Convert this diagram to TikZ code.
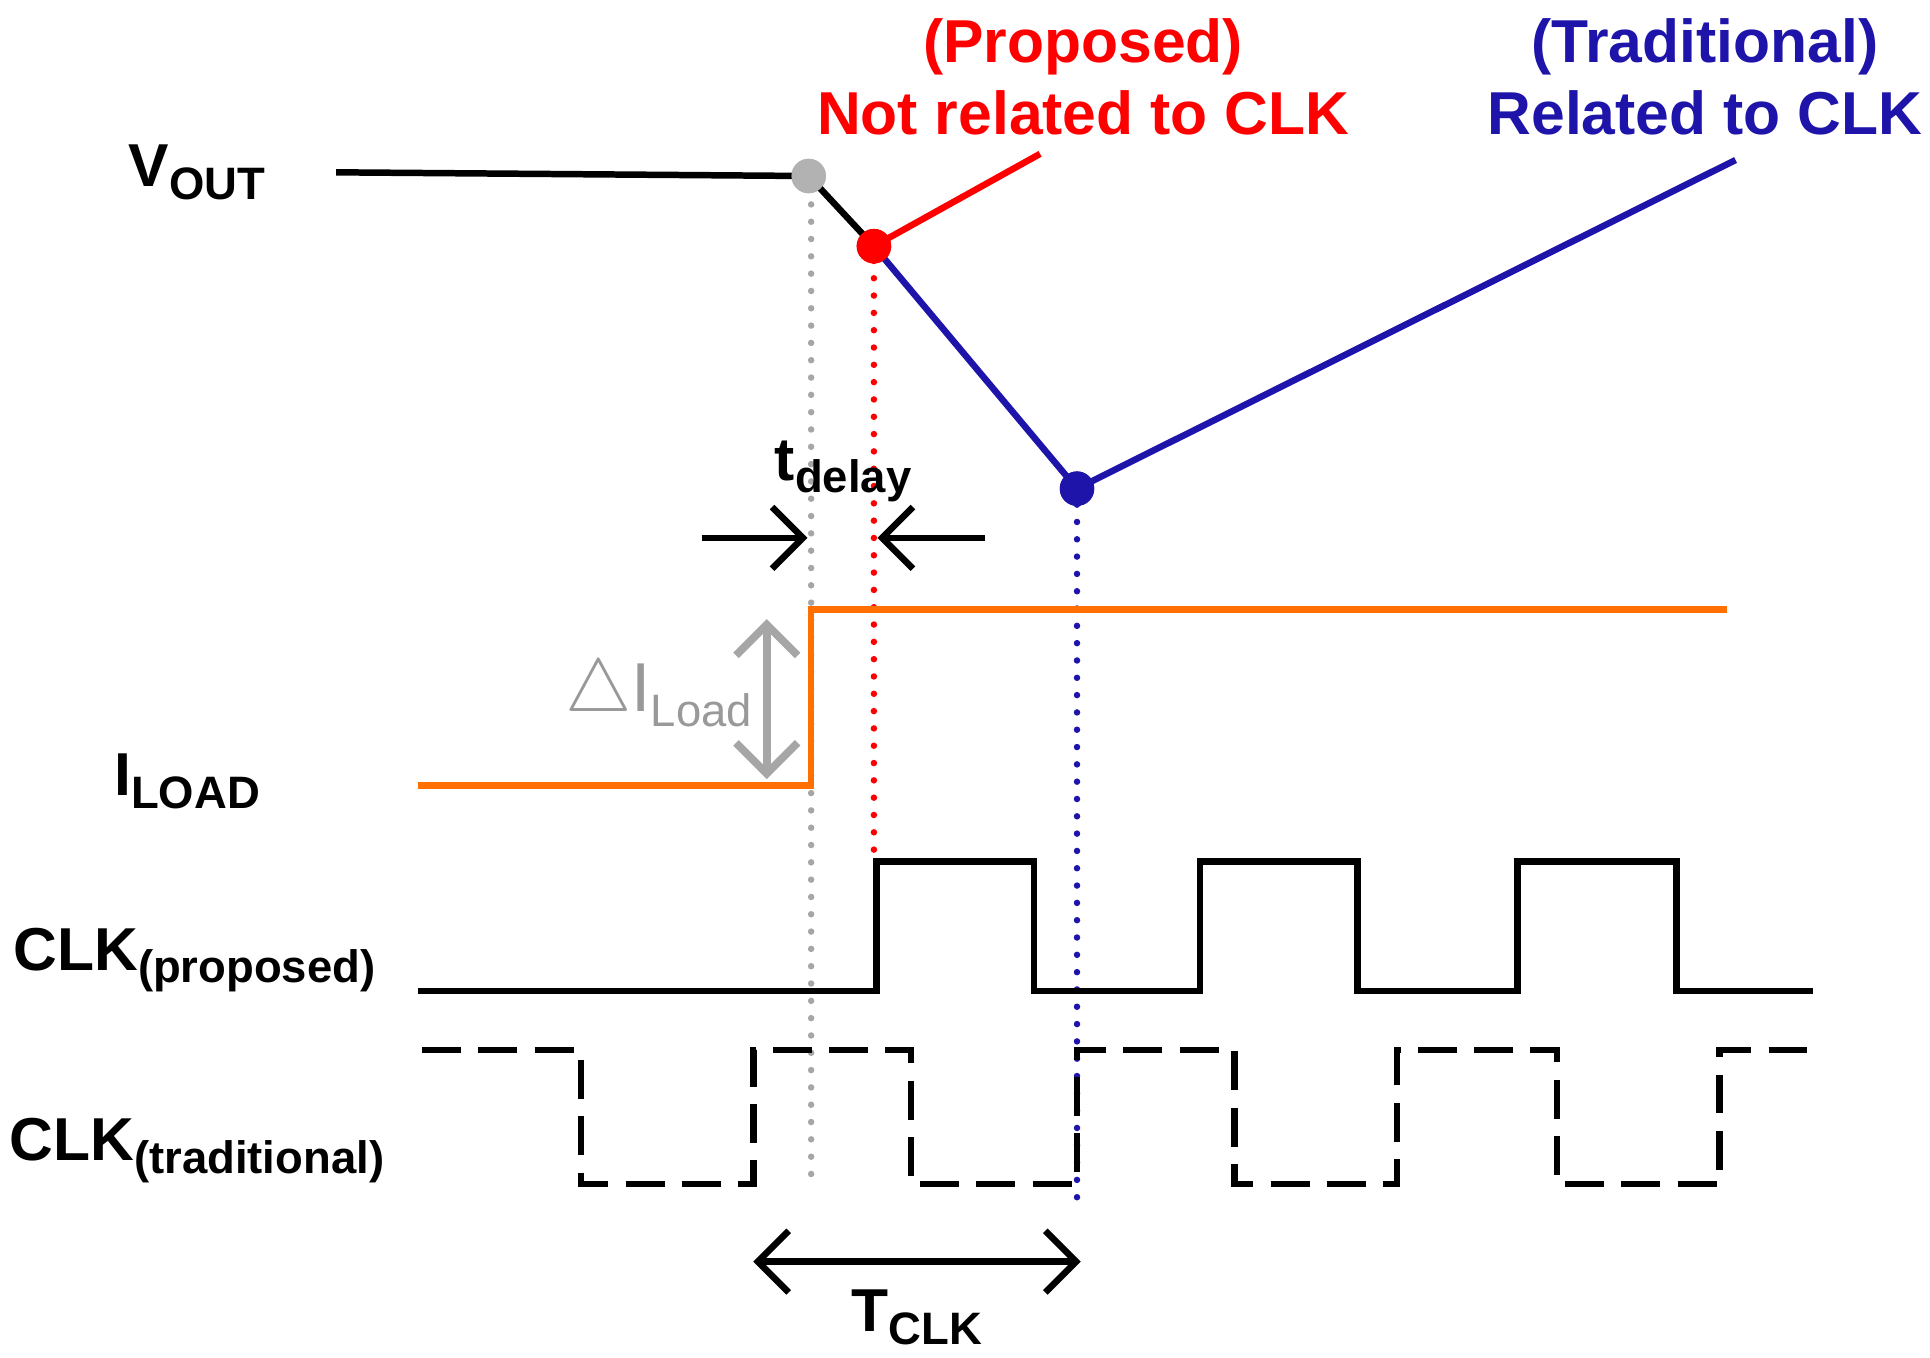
\documentclass[tikz,border=0pt]{standalone}
\usepackage{fontspec}
\setmainfont{Liberation Sans}
\usetikzlibrary{arrows.meta}
\definecolor{myorange}{RGB}{255,112,0}
\definecolor{myblue}{RGB}{30,20,170}
\definecolor{myred}{RGB}{255,0,0}
\newcommand{\mysb}[1]{\raisebox{-0.4ex}{\fontsize{10.5}{11}\selectfont #1}}
\begin{document}
\begin{tikzpicture}[x=0.01cm,y=-0.01cm,
  sig/.style={line width=1.5pt},
  lab/.style={font=\fontsize{14}{16}\selectfont\bfseries,inner sep=0pt},
  dot/.style={circle,inner sep=0pt,minimum size=0.28cm},
  vdot/.style={line width=1.5pt,dash pattern=on 0pt off 4pt,line cap=round},
  arr/.style={line width=1.5pt,-{Straight Barb[length=2.5mm,width=5mm,line width=1.5pt]}}]
\useasboundingbox (0,0) rectangle (1568,1103);
% Vout
\coordinate (v0) at (273,140);
\node[dot,fill=gray!60] (g) at (657,143) {};
\node[dot,fill=myred] (r) at (710,200) {};
\node[dot,fill=myblue] (b) at (875,397) {};
\coordinate (rend) at (845,125);
\coordinate (bend) at (1410,130);
\draw[vdot,gray!70] (659,152) -- (659,965);
\draw[vdot,myred] (710,212) -- (710,700);
\draw[vdot,myblue] (875,410) -- (875,975);
\draw[sig] (v0) -- (g.center) -- (r.center);
\draw[sig,myred] (r.center) -- (rend);
\draw[sig,myblue] (r.center) -- (b.center) -- (bend);
\node[dot,fill=gray!60] at (g) {};
\node[dot,fill=myred] at (r) {};
\node[dot,fill=myblue] at (b) {};
% tdelay
\node[lab] (td) at (685,383) {t\mysb{delay}};
\coordinate (a1) at (570,437); \coordinate (a2) at (656,437);
\coordinate (a3) at (800,437); \coordinate (a4) at (713,437);
\draw[arr] (a1) -- (a2);
\draw[arr] (a3) -- (a4);
% ILOAD
\draw[sig,myorange] (340,638) -- (659,638) -- (659,495) -- (1403,495);
\coordinate (d1) at (623,503); \coordinate (d2) at (623,633);
\draw[line width=1.8pt,gray!70,{Straight Barb[length=2.5mm,width=5mm,line width=1.8pt]}-{Straight Barb[length=2.5mm,width=5mm,line width=1.8pt]}] (d1) -- (d2);
\node[font=\fontsize{16}{18}\selectfont,text=gray!80,inner sep=0pt] (dl) at (535,563) {$\bigtriangleup$I\mysb{Load}};
% CLK proposed
\draw[sig] (340,805) -- (712,805) -- (712,700) -- (840,700) -- (840,805) -- (975,805) -- (975,700) -- (1103,700) -- (1103,805) -- (1233,805) -- (1233,700) -- (1362,700) -- (1362,805) -- (1473,805);
% CLK traditional
\draw[sig,dash pattern=on 9pt off 4pt] (343,853) -- (472,853) -- (472,962) -- (612,962) -- (612,853) -- (740,853) -- (740,962) -- (875,962) -- (875,853) -- (1003,853) -- (1003,962) -- (1135,962) -- (1135,853) -- (1265,853) -- (1265,962) -- (1397,962) -- (1397,853) -- (1470,853);
% TCLK
\coordinate (t1) at (612,1025); \coordinate (t2) at (878,1025);
\draw[line width=1.5pt,{Straight Barb[length=2.5mm,width=5mm,line width=1.5pt]}-{Straight Barb[length=2.5mm,width=5mm,line width=1.5pt]}] (t1) -- (t2);
\node[lab] (tc) at (745,1070) {T\mysb{CLK}};
% labels
\node[lab] (lv) at (160,140) {V\mysb{OUT}};
\node[lab] (li) at (152,635) {I\mysb{LOAD}};
\node[lab] (lp) at (158,780) {CLK\mysb{(proposed)}};
\node[lab] (lt) at (160,935) {CLK\mysb{(traditional)}};
\node[lab,text=myred] (p1) at (880,38) {(Proposed)};
\node[lab,text=myred] (p2) at (880,92) {Not related to CLK};
\node[lab,text=myblue] (q1) at (1385,38) {(Traditional)};
\node[lab,text=myblue] (q2) at (1385,92) {Related to CLK};
\end{tikzpicture}
\end{document}
